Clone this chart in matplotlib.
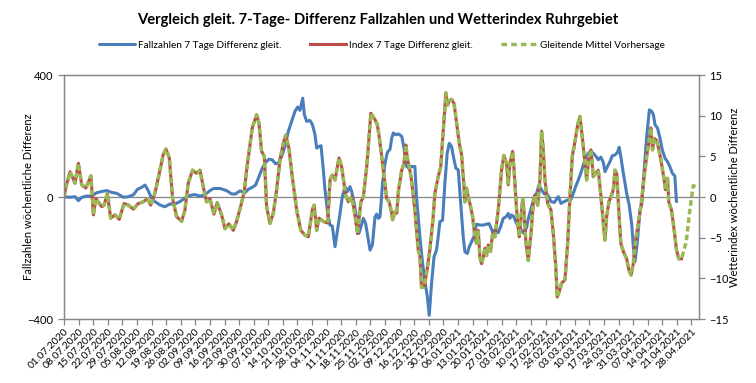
import matplotlib
matplotlib.use('Agg')
import matplotlib.pyplot as plt
import numpy as np
import pandas as pd

plt.rcParams['font.family'] = ['Lato', 'DejaVu Sans']

start = pd.Timestamp('2020-07-01')

# Fallzahlen 7 Tage Differenz gleit. (days since 01.07.2020, value)
blue_day = [0, 2.9, 5.3, 6.9, 8.5, 10.9, 13.3, 15.7, 18.1, 20.5, 22.9, 25.3, 28.5, 30.9,
            33.3, 35.2, 37.3, 38.9, 40.4, 42.0, 43.6, 46.0, 48.4, 50.8, 53.2, 55.6, 58.0,
            60.4, 62.8, 65.2, 67.6, 70.0, 71.9, 74.8, 78.0, 80.4, 82.3, 84.4, 86.8, 88.4,
            90.3, 91.9, 93.5, 95.1, 96.7, 98.3, 99.9, 101.5, 102.8, 104.4, 106.0, 107.6,
            109.2, 110.8, 112.1, 113.2, 114.0, 114.5, 115.3, 116.4, 118.0, 119.2, 120.4,
            121.2, 122.3, 123.3, 124.4, 125.2, 126.5, 127.6, 128.7, 130.0, 131.2, 132.4,
            133.5, 134.8, 136.0, 137.2, 138.0, 139.2, 140.4, 141.5, 142.4, 143.6, 144.7,
            146.0, 146.8, 147.9, 149.2, 150.0, 150.8, 151.6, 152.8, 154.0, 155.1, 156.4,
            157.2, 158.0, 159.2, 160.4, 162.0, 163.1, 164.4, 165.6, 166.7, 168.3, 169.1,
            170.7, 172.0, 173.1, 174.3, 175.2, 176.3, 177.5, 178.7, 179.5, 180.3, 181.6,
            182.7, 183.8, 184.8, 185.9, 187.1, 188.0, 189.1, 190.3, 191.5, 192.3, 193.5,
            194.4, 195.5, 196.6, 197.9, 199.5, 201.1, 202.7, 203.9, 205.6, 206.7, 208.3,
            209.4, 210.7, 212.0, 213.1, 213.9, 214.7, 215.8, 217.1, 218.4, 219.5, 220.6,
            221.9, 222.7, 224.3, 225.6, 226.7, 227.8, 229.1, 230.4, 232.0, 233.6, 235.2,
            237.1, 238.4, 240.0, 241.6, 243.2, 244.3, 245.4, 246.7, 247.9, 249.1, 250.2,
            251.5, 252.7, 253.8, 255.0, 256.3, 257.5, 258.7, 259.5, 260.7, 261.9, 263.0,
            264.3, 265.5, 266.3, 267.1, 268.3, 269.9, 271.1, 272.3, 273.1, 273.9, 275.1,
            276.3, 277.1, 278.3, 279.5, 280.3, 280.8, 281.9, 282.7, 283.5, 284.7, 285.9,
            287.0, 288.3, 289.5, 290.6, 291.8, 293.0, 293.8]
blue_val = [1, -1, 1, -12, -1, 3, 3, 14, 18, 21, 15, 12, -1, 1,
            7, 25, 32, 39, 21, -4, -15, -26, -32, -23, -23, -15, -4,
            5, 8, 3, 7, 21, 28, 28, 21, 10, 10, 20, 14, 25,
            32, 39, 67, 94, 113, 124, 122, 109, 111, 133, 166, 215,
            248, 281, 295, 284, 308, 324, 270, 248, 251, 237, 204,
            160, 166, 168, 89, 23, -54, -92, -95, -163, -109, -54,
            1, 34, 18, 34, 18, -21, -70, -119, -98, -70, -87,
            -141, -174, -158, -65, -56, -70, -65, 45, 111, 146, 157,
            193, 210, 204, 207, 199, 160, 100, 94, 100, 100, 1,
            -130, -218, -273, -328, -388, -284, -196, -174, -130, -81, -76,
            45, 143, 176, 165, 122, 94, 89, -21, -130, -180, -185,
            -163, -147, -130, -89, -92, -92, -89, -87, -114, -109, -117,
            -98, -70, -65, -54, -70, -59, -65, -87, -98, -109, -119,
            -100, -72, -32, 1, 12, 39, 23, 10, 7, -15, -18,
            1, -21, -15, -10, -8, 12, 34, 56, 78, 105, 127,
            144, 149, 144, 135, 122, 131, 113, 83, 100, 116, 135,
            138, 146, 163, 133, 78, 12, -26, -87, -163, -212, -141,
            -43, -26, 89, 198, 253, 286, 281, 270, 237, 226, 193,
            154, 127, 116, 100, 78, 69, -15]

# Index 7 Tage Differenz gleit.
idx_day = [0, 1.0, 2.9, 5.3, 6.9, 8.5, 10.5, 12.9, 14.1, 15.3, 18.1, 19.2, 20.8, 22.4,
           24.5, 26.5, 28.8, 30.9, 33.3, 35.6, 38.0, 40.0, 41.6, 43.6, 45.7, 47.6, 48.9,
           50.5, 52.1, 54.0, 56.4, 58.0, 59.6, 61.7, 63.6, 65.2, 67.1, 68.4, 70.0, 71.9,
           73.5, 75.6, 77.2, 79.1, 81.2, 82.8, 84.9, 86.5, 87.6, 89.2, 90.3, 92.4, 93.5,
           94.8, 96.1, 97.2, 98.8, 100.4, 102.0, 103.6, 105.2, 106.3, 107.9, 109.5, 111.6,
           113.6, 115.6, 117.2, 119.1, 120.0, 121.2, 122.3, 124.4, 126.5, 127.6, 128.7,
           130.0, 131.9, 133.2, 135.1, 136.4, 138.0, 139.2, 140.8, 142.4, 143.6, 145.2,
           146.3, 147.2, 148.4, 149.2, 150.3, 151.2, 152.4, 153.5, 154.8, 156.0, 157.2,
           157.6, 158.8, 159.6, 160.4, 162.0, 163.1, 164.0, 164.7, 165.9, 166.7, 168.3,
           169.9, 170.7, 171.5, 172.7, 173.9, 175.5, 177.1, 177.9, 179.5, 180.7, 181.6,
           182.7, 183.2, 184.0, 184.8, 185.9, 187.1, 188.3, 189.6, 190.7, 191.8, 192.3,
           193.1, 193.9, 194.7, 196.0, 197.1, 197.9, 198.7, 199.5, 200.3, 201.1, 201.9,
           202.7, 203.5, 204.6, 205.6, 206.7, 208.3, 209.9, 211.0, 212.3, 213.1, 213.9,
           215.2, 215.8, 216.8, 217.6, 218.4, 219.0, 220.0, 220.6, 221.6, 222.7, 224.0,
           225.1, 225.9, 227.2, 228.3, 229.1, 229.9, 230.7, 232.0, 233.6, 234.7, 235.8,
           236.6, 237.5, 238.7, 240.3, 241.6, 242.7, 243.8, 245.1, 246.4, 247.5, 248.6,
           249.9, 250.7, 251.8, 252.8, 253.9, 255.0, 256.3, 257.6, 258.7, 259.5, 260.3,
           261.4, 262.7, 263.5, 264.3, 265.1, 266.2, 267.1, 268.3, 269.9, 271.0, 272.0,
           273.1, 274.2, 275.5, 277.1, 278.3, 279.5, 280.6, 281.5, 282.3, 283.1, 284.2,
           285.4, 286.6, 287.9, 288.5, 289.5, 290.1, 291.4, 292.7, 293.8, 294.9, 296.2]
idx_val = [0, 1.3, 3.1, 1.7, 4.15, 1.5, 1.1, 2.6, -2.2, -0.2, -1.2, -1.0, 0.4, -2.6,
           -2.2, -2.75, -0.8, -1.0, -1.5, -0.8, -0.6, -0.2, -1.0, 0.45, 2.9, 5.2, 5.9,
           4.8, -0.2, -2.4, -3.0, -1.6, 1.7, 3.3, 2.9, 3.3, 0.9, -0.6, -0.2, -2.1,
           -0.7, -2.2, -3.9, -3.3, -4.1, -3.0, -1.0, 0.7, 3.3, 6.4, 8.5, 10.1, 9.1,
           5.6, 5.0, -1.2, -3.25, -2.0, 0.9, 4.6, 6.6, 7.6, 6.0, 2.5, -1.6,
           -4.1, -4.7, -4.9, -1.6, -1.0, -4.1, -2.6, -3.0, -3.2, 2.1, 2.7,
           2.1, 4.8, 3.7, 0.25, -0.6, 0.0, -1.6, -4.5, -0.6, 0.0, 3.7,
           7.4, 10.3, 9.8, 9.5, 8.9, 7.4, 5.0, 2.5, -0.2, -0.6, -2.0,
           -2.8, -1.8, -2.0, 0.7, 3.3, 4.15, 6.4, 4.8, 3.3, 2.1, -1.6,
           -6.5, -7.2, -11.1, -11.1, -9.4, -6.5, -2.4, 0.45, 2.5, 3.7, 7.0,
           11.1, 12.8, 11.3, 11.8, 12.0, 11.5, 9.1, 6.6, 5.2, 1.5, -0.6,
           1.1, 0.0, -0.8, -2.4, -4.9, -5.7, -4.1, -7.4, -8.2, -7.4, -6.3,
           -7.2, -5.9, -6.7, -4.5, -4.9, -1.6, 3.3, 5.1, 4.15, 1.5, 4.15,
           5.6, 3.7, -0.4, -3.25, -4.9, -3.25, -0.2, -1.6, -5.7, -7.8, -4.5,
           -0.8, 0.25, -1.0, 2.1, 8.1, 5.8, 2.1, -0.8, -1.6, -4.5, -8.2,
           -12.3, -11.7, -10.6, -10.2, -5.7, 0.0, 5.0, 6.8, 8.9, 9.9, 7.4,
           4.15, 2.1, 5.0, 5.8, 2.5, 2.9, 3.3, 0.0, -3.25, -5.3, -2.4,
           -0.6, 0.25, 0.9, 3.3, 2.9, -2.0, -5.7, -6.7, -7.6, -9.0, -9.6,
           -8.2, -5.3, -3.25, -0.4, 2.5, 5.0, 6.8, 8.5, 5.8, 7.2, 7.0,
           5.8, 4.15, 2.1, 0.9, 2.3, -0.6, -1.6, -4.1, -6.5, -7.6, -7.6]

# Gleitende Mittel Vorhersage: follows the index, then continues as forecast
fc_day = [298.5, 300.0, 301.8, 303.4]
fc_val = [-5.5, -2.0, 1.4, 1.2]

tick_dates = pd.date_range('2020-07-01', '2021-04-28', freq='7D')
tick_labels = [d.strftime('%d.%m.%Y') for d in tick_dates]

blue_x = start + pd.to_timedelta(blue_day, unit='D')
idx_x = start + pd.to_timedelta(idx_day, unit='D')
green_x = start + pd.to_timedelta(idx_day + fc_day, unit='D')
green_y = idx_val + fc_val

c_blue = '#4a7ebb'
c_red = '#be4b48'
c_green = '#98b954'
c_axis = '#868686'

fig = plt.figure(figsize=(7.56, 3.83), dpi=100)
ax = fig.add_axes([64 / 756, 1 - 319 / 383, 635 / 756, 244 / 383])
ax2 = ax.twinx()

ax.axhline(0, color=c_axis, lw=0.9, zorder=1)
l1, = ax.plot(blue_x, blue_val, color=c_blue, lw=2.2, solid_capstyle='round',
              label='Fallzahlen 7 Tage Differenz gleit.', zorder=3)
l2, = ax2.plot(idx_x, idx_val, color=c_red, lw=2.2,
               label='Index 7 Tage Differenz gleit.')
l3, = ax2.plot(green_x, green_y, color=c_green, lw=2.5, dashes=(1.6, 0.9),
               label='Gleitende Mittel Vorhersage')

ax.set_ylim(-400, 400)
ax.set_yticks([-400, 0, 400])
ax2.set_ylim(-15, 15)
ax2.set_yticks(np.arange(-15, 16, 5))
ax.set_xlim(start, start + pd.Timedelta(days=304.6))
ax.set_xticks(tick_dates)
ax.set_xticklabels(tick_labels, rotation=45, ha='right', va='top',
                   rotation_mode='anchor', fontsize=7.5)

for a in (ax, ax2):
    for s in a.spines.values():
        s.set_color(c_axis)
        s.set_linewidth(0.9)
    a.tick_params(colors=c_axis, labelcolor='black', length=4, width=0.9,
                  labelsize=8)
ax.tick_params(axis='x', labelsize=7.5, pad=2)

ax.set_ylabel('Fallzahlen wöchentliche Differenz', fontsize=8)
ax2.set_ylabel('Wetterindex wöchentliche Differenz', fontsize=8)
ax.yaxis.set_label_coords(-0.048, 0.5)
ax2.yaxis.set_label_coords(1.048, 0.5)

fig.text(0.5, 1 - 20 / 383, 'Vergleich gleit. 7-Tage- Differenz Fallzahlen und Wetterindex Ruhrgebiet',
         ha='center', va='center', fontsize=10.6, fontweight='bold')

leg = fig.legend(handles=[l1, l2, l3], loc='center', bbox_to_anchor=(0.505, 1 - 45 / 383),
                 ncol=3, frameon=False, fontsize=7.2, handlelength=3.6,
                 handletextpad=0.3, columnspacing=2.8)
leg.get_lines()[2].set_dashes((1.6, 1.2))

fig.savefig('out.png', dpi=100)
